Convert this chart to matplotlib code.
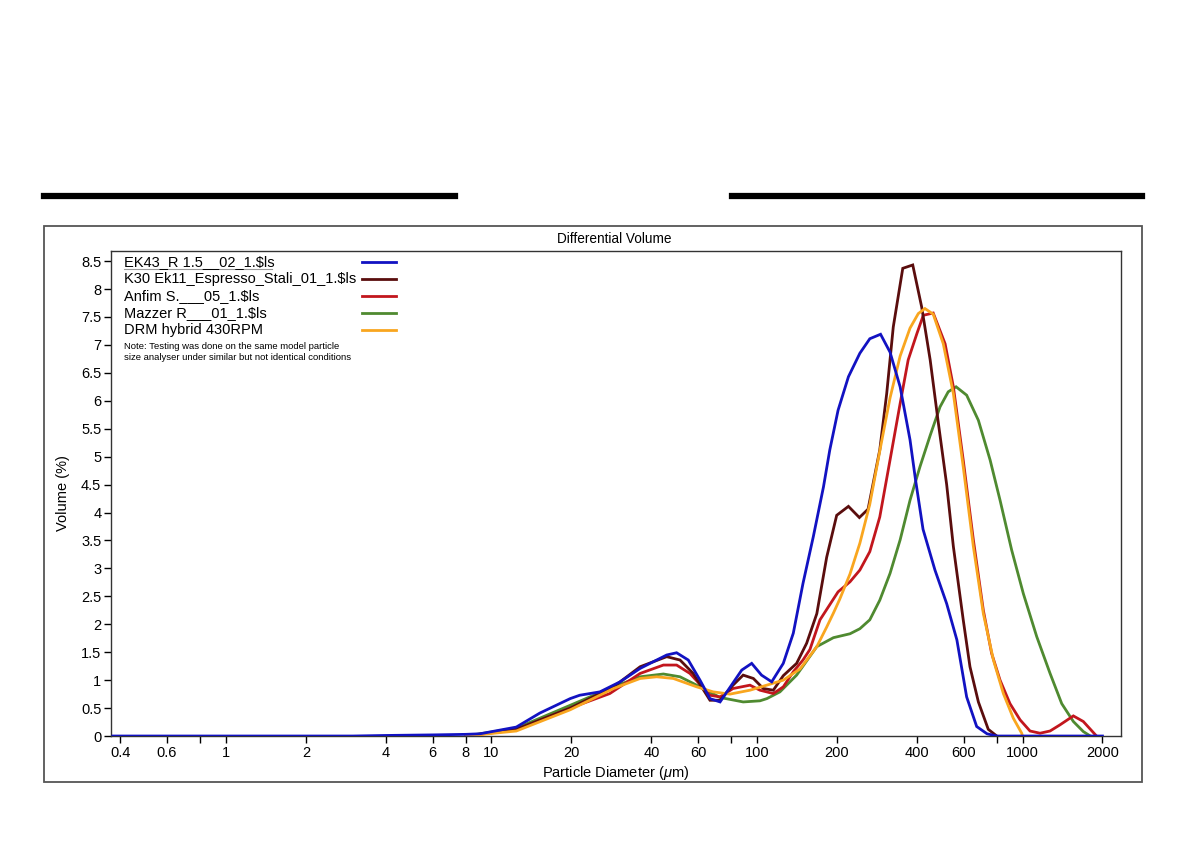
import numpy as np
import matplotlib
matplotlib.use('Agg')
import matplotlib.pyplot as plt
from matplotlib.patches import Rectangle
from matplotlib.lines import Line2D

plt.rcParams['font.family'] = ['Liberation Sans', 'DejaVu Sans']
plt.rcParams['mathtext.fontset'] = 'custom'
plt.rcParams['mathtext.it'] = 'Liberation Sans:italic'
plt.rcParams['mathtext.rm'] = 'Liberation Sans'

# series: particle diameter (um) and volume (%)
ek43_d = [0.375, 3, 4, 6, 8, 9.05, 12.4, 15.2, 19.8, 21.5, 25.6, 30.5, 36.3, 40.7, 45.7, 49.8, 55.1, 61, 66.5, 72.6,
          87.6, 95.5, 104, 113.6, 125.6, 137, 149, 163, 178, 188, 202, 221, 244, 266, 292, 317, 346, 377, 395, 422,
          468, 518, 566, 616, 672, 735, 800, 2000]
ek43_v = [0, 0, 0.01, 0.02, 0.03, 0.04, 0.16, 0.41, 0.67, 0.73, 0.79, 0.97, 1.21, 1.33, 1.45, 1.49, 1.36, 1.0, 0.67, 0.61,
          1.18, 1.30, 1.09, 0.97, 1.30, 1.84, 2.73, 3.57, 4.46, 5.12, 5.83, 6.43, 6.85, 7.11, 7.19, 6.87, 6.25, 5.3, 4.6, 3.7,
          2.97, 2.37, 1.72, 0.70, 0.17, 0.04, 0, 0]

k30_d = [8, 12.4, 19.8, 28.8, 36.3, 45.7, 51.3, 57.5, 66.5, 72.6, 81.2, 88.7, 96.9, 105.6, 115.2, 125.6, 141, 153.8,
         168, 183, 199.6, 221, 243, 262, 290, 308, 326, 354, 386, 417, 449, 482, 518, 549, 598, 634, 682, 743, 800]
k30_v = [0, 0.12, 0.50, 0.88, 1.24, 1.42, 1.36, 1.12, 0.64, 0.64, 0.91, 1.09, 1.03, 0.85, 0.82, 1.08, 1.30, 1.66,
         2.19, 3.2, 3.95, 4.11, 3.91, 4.06, 5.12, 6.13, 7.32, 8.37, 8.43, 7.68, 6.73, 5.6, 4.5, 3.39, 2.08, 1.24, 0.61, 0.12, 0]

anfim_d = [8, 12.4, 19.8, 27.9, 36.3, 44.4, 49.8, 55.9, 66.5, 72.6, 81.2, 94.1, 102.6, 115.2, 125.6, 137, 149, 158.3,
           172.7, 202, 224, 244, 266, 290, 317, 346, 371, 400, 423, 461, 511, 549, 598, 653, 712, 765, 823, 897, 979,
           1067, 1164, 1270, 1384, 1554, 1694, 1875, 1900]
anfim_v = [0, 0.11, 0.50, 0.76, 1.12, 1.27, 1.27, 1.12, 0.73, 0.70, 0.85, 0.91, 0.82, 0.76, 0.88, 1.15, 1.36, 1.55,
           2.08, 2.58, 2.76, 2.97, 3.30, 3.92, 4.94, 5.95, 6.73, 7.20, 7.53, 7.57, 7.02, 6.25, 4.94, 3.51, 2.25, 1.48, 1.0,
           0.58, 0.29, 0.09, 0.05, 0.09, 0.20, 0.36, 0.26, 0.03, 0]

mazzer_d = [8, 12.4, 19.8, 28.8, 36.3, 44.4, 51.3, 61, 72.6, 88.7, 102.6, 109, 122, 141, 168, 194, 224, 244, 266, 290,
            317, 346, 377, 411, 449, 489, 525, 562, 616, 682, 755, 823, 910, 1007, 1131, 1270, 1405, 1554, 1694, 1800]
mazzer_v = [0, 0.14, 0.55, 0.88, 1.06, 1.11, 1.06, 0.88, 0.69, 0.61, 0.63, 0.67, 0.79, 1.09, 1.6, 1.76, 1.83, 1.92, 2.08, 2.43,
            2.91, 3.51, 4.22, 4.82, 5.38, 5.89, 6.16, 6.25, 6.10, 5.65, 4.94, 4.22, 3.33, 2.55, 1.78, 1.12, 0.58, 0.26, 0.08, 0]

drm_d = [8, 12.4, 19.8, 28.8, 36.3, 41.9, 48.4, 59.3, 68.4, 79.1, 94.1, 108.8, 125.6, 145.2, 168, 183, 194, 205, 224, 244,
         266, 290, 317, 346, 377, 405, 429, 461, 503, 549, 598, 653, 712, 777, 847, 923, 993, 1000]
drm_v = [0, 0.09, 0.47, 0.85, 1.03, 1.06, 1.03, 0.88, 0.79, 0.75, 0.82, 0.91, 1.0, 1.2, 1.6, 1.95, 2.2, 2.45, 2.9, 3.45,
         4.15, 5.1, 6.05, 6.8, 7.3, 7.56, 7.65, 7.55, 7.02, 6.13, 4.82, 3.39, 2.19, 1.36, 0.76, 0.32, 0.05, 0]

labels = ['EK43_R 1.5__02_1.\\$ls', 'K30 Ek11_Espresso_Stali_01_1.\\$ls', 'Anfim S.___05_1.\\$ls',
          'Mazzer R___01_1.\\$ls', 'DRM hybrid 430RPM']
colors = ['#1212c2', '#5a0d0d', '#c2161d', '#4f8a30', '#f9a61f']

x_ticks = [0.4, 0.6, 0.8, 1, 2, 4, 6, 8, 10, 20, 40, 60, 80, 100, 200, 400, 600, 800, 1000, 2000]
x_ticklabels = ['0.4', '0.6', '', '1', '2', '4', '6', '8', '10', '20', '40', '60', '', '100', '200', '400', '600', '',
                '1000', '2000']
y_ticks = np.arange(0, 8.51, 0.5)

fig = plt.figure(figsize=(12, 8.46), dpi=100)
ax = fig.add_axes([0.0925, 0.130, 0.8417, 0.5733])

series = [(ek43_d, ek43_v), (k30_d, k30_v), (anfim_d, anfim_v), (mazzer_d, mazzer_v), (drm_d, drm_v)]
zorders = [3.6, 3.3, 3.2, 3.1, 3.4]
for (d, v), col, z in zip(series, colors, zorders):
    ax.plot(d, v, color=col, lw=2.0, solid_joinstyle='miter', zorder=z)

ax.set_xscale('log')
ax.set_xlim(0.369, 2350)
ax.set_ylim(0, 8.68)
ax.set_xticks(x_ticks)
ax.set_xticklabels(x_ticklabels)
ax.xaxis.set_minor_locator(matplotlib.ticker.NullLocator())
ax.set_yticks(y_ticks)
ax.set_yticklabels(['%g' % t for t in y_ticks])
ax.tick_params(axis='both', direction='out', length=5, width=1, labelsize=10.5, colors='black', pad=2)
for s in ax.spines.values():
    s.set_color('#333333')
    s.set_linewidth(1.0)

ax.set_xlabel(r'Particle Diameter ($\mu$m)', fontsize=10.5, labelpad=3)
ax.set_ylabel('Volume (%)', fontsize=10.5, labelpad=8)

# legend drawn by hand: text on the left, line sample on the right
row_y = [0.977, 0.942, 0.907, 0.872, 0.837]
for lab, col, yy in zip(labels, colors, row_y):
    ax.text(0.0129, yy, lab, transform=ax.transAxes, fontsize=10.5, va='center', ha='left')
    ax.add_line(Line2D([0.2485, 0.282], [yy, yy], transform=ax.transAxes, color=col, lw=2.0))
ax.add_line(Line2D([0.0129, 0.159], [0.962, 0.962], transform=ax.transAxes, color='#999999', lw=0.8))
ax.text(0.0129, 0.804, 'Note: Testing was done on the same model particle', transform=ax.transAxes,
        fontsize=6.8, va='center', ha='left')
ax.text(0.0129, 0.781, 'size analyser under similar but not identical conditions', transform=ax.transAxes,
        fontsize=6.8, va='center', ha='left')

fig.text(0.5117, 0.7175, 'Differential Volume', fontsize=9.8, ha='center', va='center')

# outer frame and the two black bars above it
fig.add_artist(Rectangle((0.0367, 0.0757), 0.915, 0.657, transform=fig.transFigure, fill=False,
                         edgecolor='#555555', lw=1.3))
fig.add_artist(Line2D([0.0367, 0.379], [0.7683, 0.7683], transform=fig.transFigure, color='black', lw=4.5))
fig.add_artist(Line2D([0.61, 0.9517], [0.7683, 0.7683], transform=fig.transFigure, color='black', lw=4.5))

fig.savefig('out.png', dpi=100, facecolor='white')
